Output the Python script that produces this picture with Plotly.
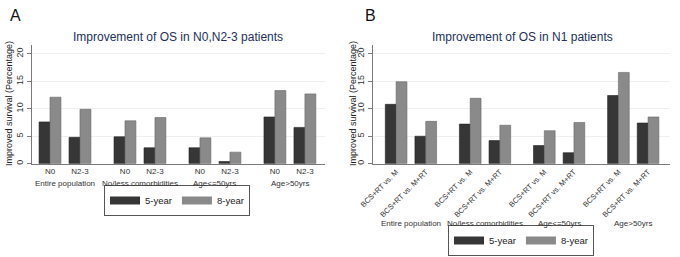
import plotly.graph_objects as go

groups = ["Entire population", "No/less comorbidities", "Age<=50yrs", "Age>50yrs"]
series = ["5-year", "8-year"]

a_sub = ["N0", "N2-3"]
a_5yr = [7.6, 4.8, 4.9, 2.9, 2.9, 0.4, 8.5, 6.6]
a_8yr = [12.1, 9.9, 7.8, 8.4, 4.7, 2.1, 13.3, 12.7]

b_sub = ["BCS+RT vs. M", "BCS+RT vs. M+RT"]
b_5yr = [10.8, 5.0, 7.2, 4.2, 3.3, 2.0, 12.4, 7.4]
b_8yr = [14.9, 7.7, 11.9, 7.0, 6.0, 7.5, 16.6, 8.5]

titles = ["Improvement of OS in N0,N2-3 patients", "Improvement of OS in N1 patients"]

DARK = "#363636"
LIGHT = "#8a8a8a"
FONT = "Liberation Sans, Arial, sans-serif"
GROUP_STEP = 2.5
H = 257
W = 680

pos = [g * GROUP_STEP + k for g in range(len(groups)) for k in range(2)]
group_centers = [g * GROUP_STEP + 0.5 for g in range(len(groups))]

fig = go.Figure()

panels = [
    dict(sub=a_sub, v5=a_5yr, v8=a_8yr, xa="x", ya="y", legend="legend"),
    dict(sub=b_sub, v5=b_5yr, v8=b_8yr, xa="x2", ya="y2", legend="legend2"),
]

for p in panels:
    for name, vals, col, line in [(series[0], p["v5"], DARK, "#222222"),
                                  (series[1], p["v8"], LIGHT, "#666666")]:
        fig.add_trace(go.Bar(x=pos, y=vals, name=name, marker=dict(color=col, line=dict(color=line, width=0.6)),
                             xaxis=p["xa"], yaxis=p["ya"], showlegend=False, offsetgroup=name))
        fig.add_trace(go.Scatter(x=[None], y=[None], mode="lines", name=name,
                                 line=dict(color=col, width=8), xaxis=p["xa"], yaxis=p["ya"],
                                 legend=p["legend"], showlegend=True))

ydom = [0.363, 0.823]
yax = dict(range=[0, 21.5], tickvals=[0, 5, 10, 15, 20], tickangle=-90, automargin=False,
           showline=True, linecolor="#7a7a7a", linewidth=1, ticks="outside", ticklen=4,
           tickcolor="#7a7a7a", showgrid=True, gridcolor="#efefef", zeroline=False,
           tickfont=dict(size=9, color="#333", family=FONT), domain=ydom)

fig.update_layout(
    width=W, height=H, margin=dict(l=0, r=0, t=0, b=0),
    paper_bgcolor="white", plot_bgcolor="white",
    barmode="group", bargap=0.27, bargroupgap=0,
    font=dict(family=FONT),
    xaxis=dict(domain=[32/W, 325/W], range=[-0.6, 9.17], tickvals=pos, automargin=False,
               ticktext=a_sub * len(groups), showline=True, linecolor="#7a7a7a",
               ticks="", ticklen=0, showgrid=False, zeroline=False,
               tickfont=dict(size=8, color="#333", family=FONT)),
    xaxis2=dict(domain=[373/W, 670/W], range=[-0.78, 9.24], tickvals=pos, automargin=False,
                ticktext=b_sub * len(groups), tickangle=-45, showline=True, linecolor="#7a7a7a",
                ticks="", ticklen=0, showgrid=False, zeroline=False,
                tickfont=dict(size=7.5, color="#333", family=FONT)),
    yaxis=dict(yax, anchor="x"),
    yaxis2=dict(yax, anchor="x2"),
    legend=dict(orientation="h", x=177/W, xanchor="center", y=(H-200.5)/H, yanchor="middle",
                bordercolor="#555", borderwidth=1, font=dict(size=9.5, color="#222", family=FONT),
                tracegroupgap=0),
    legend2=dict(orientation="h", x=521/W, xanchor="center", y=(H-240.5)/H, yanchor="middle",
                 bordercolor="#555", borderwidth=1, font=dict(size=9.5, color="#222", family=FONT),
                 tracegroupgap=0),
)

annotations = []
def ann(text, x, y, size, color, xref="paper", angle=0):
    annotations.append(dict(text=text, x=x, y=y, xref=xref, yref="paper", xanchor="center",
                            yanchor="middle", showarrow=False, textangle=angle,
                            font=dict(size=size, color=color, family=FONT)))

ann(titles[0], 178/W, (H-37)/H, 12, "#22305a")
ann(titles[1], 522/W, (H-37)/H, 12, "#22305a")
ann("A", 15/W, (H-15)/H, 16, "#111")
ann("B", 371/W, (H-15)/H, 16, "#111")
for xp in [9/W, 353/W]:
    ann("Improved survival (Percentage)", xp, (H-104)/H, 9, "#222", angle=-90)
for gc, g in zip(group_centers, groups):
    ann(g, gc, (H-183)/H, 8, "#333", xref="x")
    ann(g, gc, (H-223)/H, 8, "#333", xref="x2")

fig.update_layout(annotations=annotations)
fig.write_html("out.html", config={"displayModeBar": False},
               post_script="document.body.style.margin='0';document.body.style.overflow='hidden';")
